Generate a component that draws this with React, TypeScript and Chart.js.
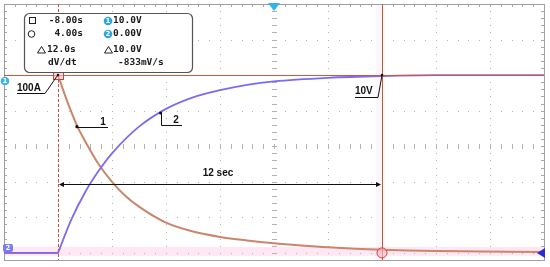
import React, { useEffect, useRef } from "react";
import { Chart, registerables } from "chart.js";

Chart.register(...registerables);

// ---- axes (seconds, volts, amps) ----
const timeTicks = [-10, -8, -6, -4, -2, 0, 2, 4, 6, 8, 10];
const voltTicks = [0, 2, 4, 6, 8, 10, 12, 14];
const minorPerDiv = 5;

// ---- channel 2: voltage (V) ----
const tPreTrigger = [-10, -8];
const vPreTrigger = [0, 0];
const tVoltage = [-8, -7.5, -7, -6.5, -6, -5, -4, -3, -2, -1, 0, 2, 4, 6, 10];
const voltage = [0, 1.9, 3.4, 4.6, 5.6, 7.1, 8.1, 8.75, 9.15, 9.45, 9.65, 9.85, 9.95, 10, 10];

// ---- channel 1: current (A) ----
const aPreTrigger = [0, 0];
const tCurrent = [-8, -7.75, -7.5, -7.25, -7, -6.5, -6, -5.5, -5, -4, -3, -2, -1, 0, 1, 2, 4, 6, 10];
const current = [100, 89, 79, 70, 63, 50, 40, 32, 26, 17, 12, 9, 7, 5.4, 4.2, 3.2, 1.8, 1, 0.5];

// ---- cursors / readouts ----
const cursorT1 = -8;
const cursorT2 = 4;
const levelA = 100;
const levelV = 10;
const readoutLeft = ["-8.00s", "4.00s", "12.0s", "dV/dt"];
const readoutRight = ["10.0V", "0.00V", "10.0V", "-833mV/s"];
const callout1 = { t: -7.3, a: 71, label: "1" };
const callout2 = { t: -4.2, v: 7.87, label: "2" };
const spanLabel = "12 sec";
const spanLevelV = 3.9;
const labelA = "100A";
const labelV = "10V";

const toXY = (xs: number[], ys: number[]) => xs.map((x, i) => ({ x, y: ys[i] }));

const scopePlugin = {
  id: "scope",
  beforeDatasetsDraw(chart: any) {
    const { ctx, chartArea: ca, scales } = chart;
    const xs = scales.x;
    const yv = scales.yV;
    const xMin = timeTicks[0];
    const xMax = timeTicks[timeTicks.length - 1];
    const vTop = yv.max;
    const vBot = yv.min;
    const xStep = (timeTicks[1] - timeTicks[0]) / minorPerDiv;
    const vStep = (voltTicks[1] - voltTicks[0]) / minorPerDiv;
    ctx.save();
    // pink bands
    ctx.fillStyle = "rgba(255,205,228,0.45)";
    const g = yv.getPixelForValue(0);
    ctx.fillRect(ca.left, g - 6, ca.right - ca.left, 9);
    const x2 = xs.getPixelForValue(cursorT2);
    ctx.fillStyle = "rgba(255,205,228,0.22)";
    ctx.fillRect(x2 - 6, ca.top, 9, ca.bottom - ca.top);

    // dotted grid
    ctx.fillStyle = "#b3b3b3";
    for (const t of timeTicks) {
      if (t <= xMin || t >= xMax) continue;
      const px = Math.round(xs.getPixelForValue(t));
      const nV = Math.floor((vTop - vBot) / vStep);
      for (let k = 0; k <= nV; k++) {
        const py = Math.round(yv.getPixelForValue(vTop - k * vStep));
        if (t === 0) ctx.fillRect(px - 2, py, 5, 1);
        else ctx.fillRect(px, py, 1, 1);
      }
    }
    const nT = Math.round((xMax - xMin) / xStep);
    for (const v of voltTicks) {
      if (v >= vTop) continue;
      const py = Math.round(yv.getPixelForValue(v));
      for (let k = 1; k < nT; k++) {
        const px = Math.round(xs.getPixelForValue(xMin + k * xStep));
        if (v === 6) ctx.fillRect(px, py - 2, 1, 5);
        else ctx.fillRect(px, py, 1, 1);
      }
    }
    // frame ticks
    ctx.fillStyle = "#a8a8a8";
    for (let k = 1; k < nT; k++) {
      const px = Math.round(xs.getPixelForValue(xMin + k * xStep));
      ctx.fillRect(px, ca.top, 1, 3);
    }
    const nV = Math.floor((vTop - vBot) / vStep);
    for (let k = 1; k <= nV; k++) {
      const py = Math.round(yv.getPixelForValue(vTop - k * vStep));
      ctx.fillRect(ca.left, py, 3, 1);
      ctx.fillRect(ca.right - 3, py, 3, 1);
    }
    // frame
    ctx.strokeStyle = "#a0a0a0";
    ctx.lineWidth = 1;
    ctx.strokeRect(ca.left + 0.5, ca.top + 0.5, ca.right - ca.left, ca.bottom - ca.top);
    ctx.restore();
  },
  afterDatasetsDraw(chart: any) {
    const { ctx, chartArea: ca, scales } = chart;
    const xs = scales.x;
    const yv = scales.yV;
    const ya = scales.yA;
    const x1 = xs.getPixelForValue(cursorT1);
    const x2 = xs.getPixelForValue(cursorT2);
    const yLvl = ya.getPixelForValue(levelA);
    const g = yv.getPixelForValue(0);
    ctx.save();

    // channel-1 level line
    ctx.strokeStyle = "#d8543a";
    ctx.lineWidth = 1;
    ctx.beginPath();
    ctx.moveTo(ca.left, Math.round(yLvl) + 0.5);
    ctx.lineTo(ca.right, Math.round(yLvl) + 0.5);
    ctx.stroke();

    // cursor 1 dashed
    ctx.strokeStyle = "#c4553a";
    ctx.setLineDash([3, 2]);
    ctx.beginPath();
    ctx.moveTo(Math.round(x1) + 0.5, ca.top);
    ctx.lineTo(Math.round(x1) + 0.5, ca.bottom);
    ctx.stroke();
    ctx.setLineDash([]);
    // cursor 2 solid
    ctx.strokeStyle = "#b0643c";
    ctx.beginPath();
    ctx.moveTo(Math.round(x2) + 0.5, ca.top);
    ctx.lineTo(Math.round(x2) + 0.5, ca.bottom);
    ctx.stroke();

    // cursor markers
    ctx.fillStyle = "rgba(255,190,210,0.6)";
    ctx.strokeStyle = "#d0442e";
    ctx.fillRect(x1 - 5, yLvl - 4, 10, 8);
    ctx.strokeRect(Math.round(x1 - 5) + 0.5, Math.round(yLvl - 4) + 0.5, 10, 8);
    ctx.beginPath();
    ctx.arc(x2, g, 5, 0, Math.PI * 2);
    ctx.fill();
    ctx.stroke();

    // callouts
    ctx.strokeStyle = "#111";
    ctx.fillStyle = "#111";
    ctx.lineWidth = 1;
    ctx.font = 'bold 10px "Liberation Sans"';
    ctx.textBaseline = "alphabetic";
    // 100A
    ctx.textAlign = "left";
    ctx.fillText(labelA, 17, 91);
    ctx.beginPath();
    ctx.moveTo(17, 93.5);
    ctx.lineTo(45, 93.5);
    ctx.lineTo(x1 - 1, yLvl + 1);
    ctx.stroke();
    ctx.beginPath();
    ctx.arc(x1, yLvl, 1.3, 0, Math.PI * 2);
    ctx.fill();
    // 10V
    const yV10 = yv.getPixelForValue(levelV);
    ctx.fillText(labelV, 355, 94);
    ctx.beginPath();
    ctx.moveTo(355, 97.5);
    ctx.lineTo(378, 97.5);
    ctx.lineTo(x2, yV10);
    ctx.stroke();
    ctx.beginPath();
    ctx.arc(x2, yV10, 1.3, 0, Math.PI * 2);
    ctx.fill();
    // 1
    const c1x = xs.getPixelForValue(callout1.t);
    const c1y = ya.getPixelForValue(callout1.a);
    ctx.beginPath();
    ctx.arc(c1x, c1y, 1.6, 0, Math.PI * 2);
    ctx.fill();
    ctx.beginPath();
    ctx.moveTo(c1x, Math.round(c1y) + 0.5);
    ctx.lineTo(108, Math.round(c1y) + 0.5);
    ctx.stroke();
    ctx.textAlign = "center";
    ctx.fillText(callout1.label, 103, c1y - 2);
    // 2
    const c2x = xs.getPixelForValue(callout2.t);
    const c2y = yv.getPixelForValue(callout2.v);
    ctx.beginPath();
    ctx.arc(c2x, c2y, 1.6, 0, Math.PI * 2);
    ctx.fill();
    ctx.beginPath();
    ctx.moveTo(Math.round(c2x) + 0.5, c2y);
    ctx.lineTo(Math.round(c2x) + 0.5, c2y + 12.5);
    ctx.lineTo(182, c2y + 12.5);
    ctx.stroke();
    ctx.fillText(callout2.label, 176, c2y + 10);

    // span arrow
    const ay = Math.round(yv.getPixelForValue(spanLevelV)) + 0.5;
    ctx.beginPath();
    ctx.moveTo(x1 + 2, ay);
    ctx.lineTo(x2 - 2, ay);
    ctx.stroke();
    ctx.beginPath();
    ctx.moveTo(x1 + 1, ay);
    ctx.lineTo(x1 + 6, ay - 2.5);
    ctx.lineTo(x1 + 6, ay + 2.5);
    ctx.closePath();
    ctx.fill();
    ctx.beginPath();
    ctx.moveTo(x2 - 1, ay);
    ctx.lineTo(x2 - 6, ay - 2.5);
    ctx.lineTo(x2 - 6, ay + 2.5);
    ctx.closePath();
    ctx.fill();
    ctx.fillText(spanLabel, (x1 + x2) / 2 - 2, ay - 9);

    // readout box
    ctx.fillStyle = "#ffffff";
    ctx.strokeStyle = "#555";
    ctx.lineWidth = 1.2;
    ctx.beginPath();
    ctx.roundRect(24.5, 13.5, 168, 59, 5);
    ctx.fill();
    ctx.stroke();
    ctx.lineWidth = 1;
    ctx.strokeStyle = "#222";
    ctx.fillStyle = "#1a1a1a";
    ctx.font = 'bold 9.5px "DejaVu Sans Mono"';
    ctx.textBaseline = "middle";
    const rowsY = [21, 34, 50, 63];
    // symbols
    ctx.strokeRect(29.5, 17.5, 6, 6);
    ctx.beginPath();
    ctx.arc(31.5, 34, 3.3, 0, Math.PI * 2);
    ctx.stroke();
    const tri = (cx: number, cy: number) => {
      ctx.beginPath();
      ctx.moveTo(cx, cy - 3.5);
      ctx.lineTo(cx + 4, cy + 3);
      ctx.lineTo(cx - 4, cy + 3);
      ctx.closePath();
      ctx.stroke();
    };
    tri(41.5, rowsY[2]);
    tri(108.5, rowsY[2]);
    ctx.textAlign = "right";
    ctx.fillText(readoutLeft[0], 83, rowsY[0]);
    ctx.fillText(readoutLeft[1], 83, rowsY[1]);
    ctx.textAlign = "left";
    ctx.fillText(readoutLeft[2], 47, rowsY[2]);
    ctx.fillText(readoutLeft[3], 48, rowsY[3]);
    ctx.fillText(readoutRight[0], 113, rowsY[0]);
    ctx.fillText(readoutRight[1], 113, rowsY[1]);
    ctx.fillText(readoutRight[2], 113, rowsY[2]);
    ctx.fillText(readoutRight[3], 118, rowsY[3]);
    // channel badges in box
    const badge = (cx: number, cy: number, txt: string, col: string) => {
      ctx.fillStyle = col;
      ctx.beginPath();
      ctx.arc(cx, cy, 4.3, 0, Math.PI * 2);
      ctx.fill();
      ctx.fillStyle = "#fff";
      ctx.font = 'bold 7px "DejaVu Sans"';
      ctx.textAlign = "center";
      ctx.fillText(txt, cx, cy + 0.5);
    };
    badge(108, rowsY[0], "1", "#2ea6e0");
    badge(108, rowsY[1], "2", "#2ea6e0");

    // side markers
    badge(5, 81, "1", "#3cb2e6");
    ctx.fillStyle = "#7d7cee";
    ctx.beginPath();
    ctx.roundRect(3, g - 9, 10, 8, 2);
    ctx.fill();
    ctx.fillStyle = "#fff";
    ctx.font = 'bold 7px "DejaVu Sans"';
    ctx.textAlign = "center";
    ctx.fillText("2", 8, g - 4.5);
    // trigger position (top)
    const xc = xs.getPixelForValue(0);
    ctx.fillStyle = "#33b4e6";
    ctx.beginPath();
    ctx.moveTo(xc - 6, ca.top - 1);
    ctx.lineTo(xc + 6, ca.top - 1);
    ctx.lineTo(xc, ca.top + 7);
    ctx.closePath();
    ctx.fill();
    // ch2 level marker (right)
    ctx.fillStyle = "#2a2ad6";
    ctx.beginPath();
    ctx.moveTo(ca.right + 1, g - 5);
    ctx.lineTo(ca.right + 1, g + 5);
    ctx.lineTo(ca.right - 7, g);
    ctx.closePath();
    ctx.fill();
    ctx.restore();
  },
};

export default function App() {
  const ref = useRef<HTMLCanvasElement | null>(null);
  useEffect(() => {
    if (!ref.current) return;
    const chart = new Chart(ref.current, {
      type: "line",
      data: {
        datasets: [
          {
            data: toXY(tPreTrigger, vPreTrigger),
            yAxisID: "yV",
            borderColor: "#7a6cf2",
            borderWidth: 1.8,
            pointRadius: 0,
            tension: 0,
          },
          {
            data: toXY(tVoltage, voltage),
            yAxisID: "yV",
            borderColor: "#7a6cf2",
            borderWidth: 1.8,
            pointRadius: 0,
            cubicInterpolationMode: "monotone",
          },
          {
            data: toXY(tPreTrigger, aPreTrigger),
            yAxisID: "yA",
            borderColor: "#c9866a",
            borderWidth: 2,
            pointRadius: 0,
            tension: 0,
          },
          {
            data: toXY(tCurrent, current),
            yAxisID: "yA",
            borderColor: "#c9866a",
            borderWidth: 2,
            pointRadius: 0,
            cubicInterpolationMode: "monotone",
          },
        ],
      },
      options: {
        responsive: false,
        animation: false,
        layout: { padding: { left: 4, top: 4, right: 6, bottom: 7 } },
        plugins: { legend: { display: false }, tooltip: { enabled: false } },
        scales: {
          x: { type: "linear", display: false, min: timeTicks[0], max: timeTicks[timeTicks.length - 1] },
          yV: { type: "linear", display: false, min: -0.4, max: voltTicks[voltTicks.length - 1] },
          yA: { type: "linear", display: false, min: -4, max: 140 },
        },
      },
      plugins: [scopePlugin],
    } as any);
    return () => chart.destroy();
  }, []);
  return (
    <div style={{ position: "absolute", left: 0, top: 0, width: 550, height: 267, background: "#fff" }}>
      <canvas ref={ref} width={550} height={267} />
    </div>
  );
}
